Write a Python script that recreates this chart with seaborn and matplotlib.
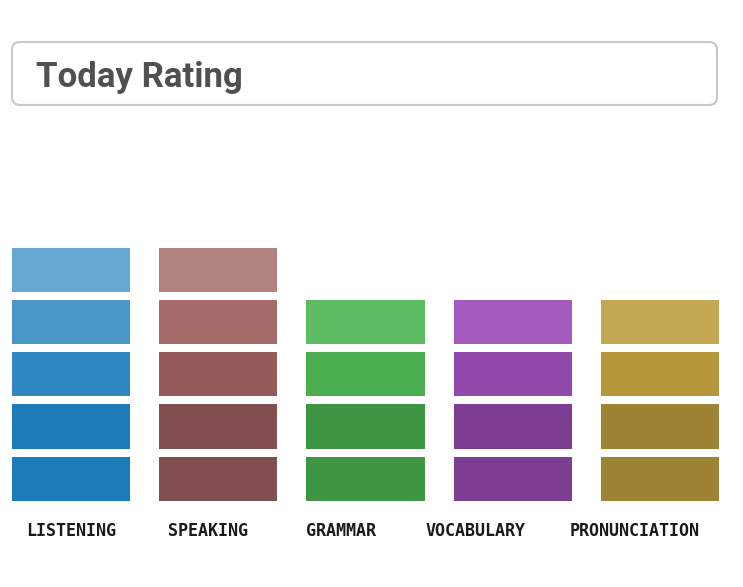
import numpy as np
import pandas as pd
import seaborn as sns
import matplotlib.pyplot as plt
import matplotlib.patches as mpatches
from matplotlib.transforms import IdentityTransform

# data
skills = ['LISTENING', 'SPEAKING', 'GRAMMAR', 'VOCABULARY', 'PRONUNCIATION']
ratings = [5, 5, 4, 4, 4]

# block colours, bottom block first
shades = {
    'LISTENING': ['#1b7bbb', '#1b7bbb', '#2f88c4', '#4a97c8', '#66a8d2'],
    'SPEAKING': ['#814f4f', '#814f4f', '#955a59', '#a56b68', '#b08280'],
    'GRAMMAR': ['#3e9642', '#3e9642', '#4aae4f', '#5dbb62'],
    'VOCABULARY': ['#7d3d92', '#7d3d92', '#9248ab', '#a35bbd'],
    'PRONUNCIATION': ['#9c8434', '#9c8434', '#b5963b', '#c4a851'],
}
# label offsets from the bar centres (px / 147)
label_shift = [0, -0.068, -0.163, -0.251, -0.170]

W, H = 743, 587
fig = plt.figure(figsize=(W / 100, H / 100), dpi=100)
ax = fig.add_axes([0, 1 - 505 / H, 1, 270 / H])

df = pd.DataFrame({'skill': skills, 'rating': ratings})
max_level = max(ratings)

# draw from the tallest level down; white edges cut the stack into blocks
for k in range(max_level, 0, -1):
    sub = df[df['rating'] >= k].copy()
    sub['top'] = k
    pal = {s: shades[s][k - 1] for s in sub['skill']}
    sns.barplot(data=sub, x='skill', y='top', hue='skill', order=skills,
                palette=pal, saturation=1, width=0.856, errorbar=None,
                edgecolor='white', linewidth=5.76, legend=False, ax=ax)

ax.set_xlim(-71 / 147.25, (W - 71) / 147.25)
ax.set_ylim(0, 270 / 52.3)
sns.despine(ax=ax, left=True, bottom=True)
ax.set_yticks([])
ax.set_xlabel('')
ax.set_ylabel('')
ax.set_xticks(np.arange(len(skills)) + np.array(label_shift))
ax.set_xticklabels(skills, family='DejaVu Sans Mono', fontweight='bold',
                   fontsize=12, color='#1a1a1a')
ax.tick_params(axis='x', length=0, pad=12)

# title card
box = mpatches.FancyBboxPatch((12, H - 105), 705, 63,
                              boxstyle='round,pad=0,rounding_size=8',
                              transform=IdentityTransform(), fill=False,
                              edgecolor='#c8c8c8', linewidth=1.5)
fig.add_artist(box)
fig.text(36 / W, 1 - 87 / H, 'Today Rating', family='Roboto',
         fontweight='bold', fontsize=25, color='#505050', va='baseline')

fig.savefig('out.png', dpi=100)
plt.close(fig)
